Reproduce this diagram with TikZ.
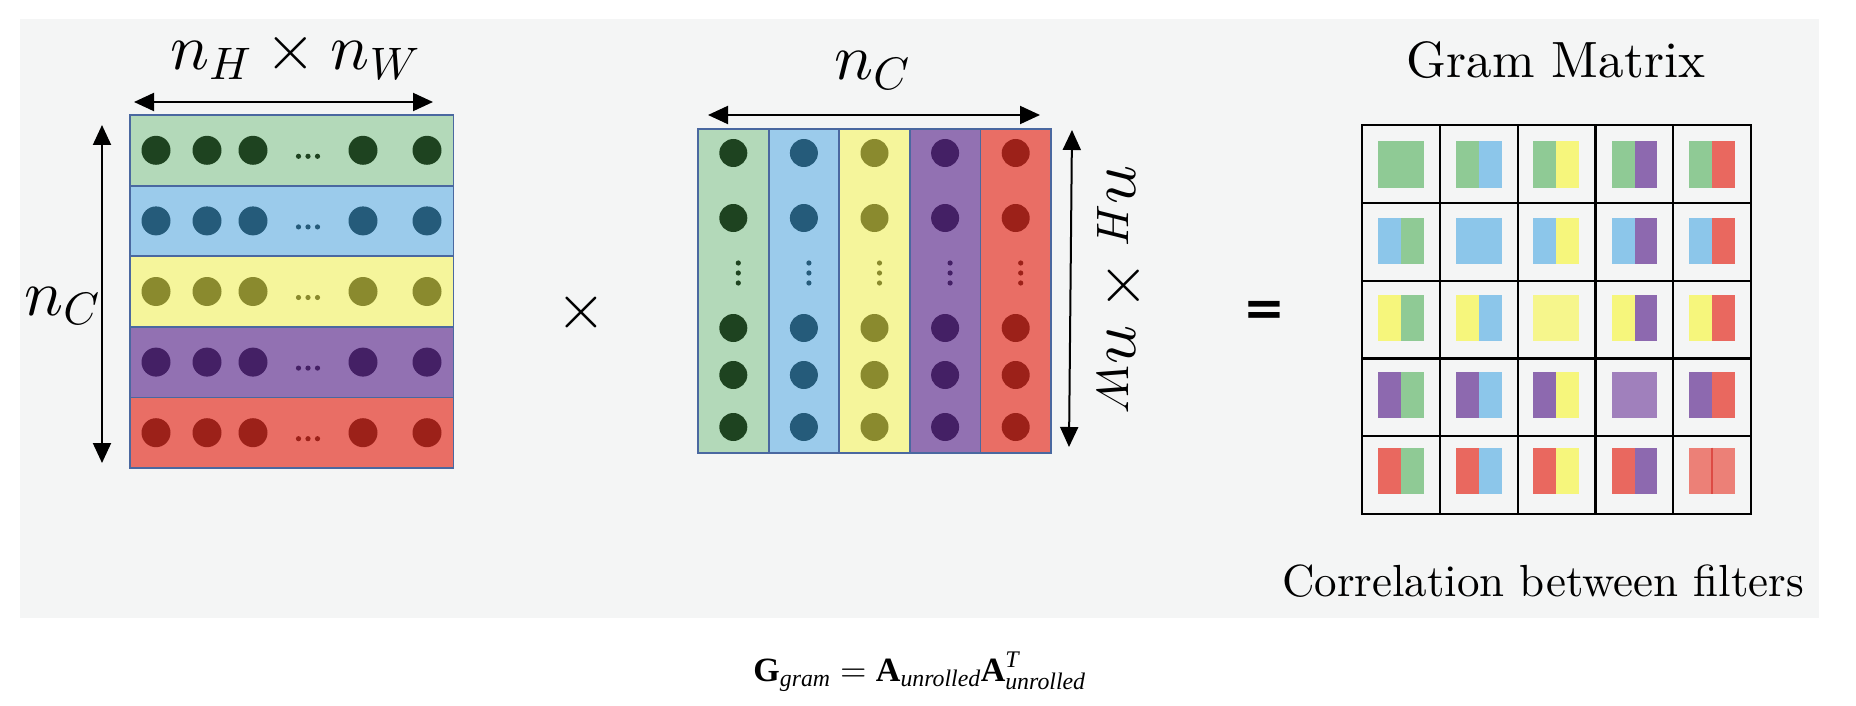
\documentclass[tikz,border=0pt]{standalone}
\usepackage{amsmath}
\usepackage{fontspec}
\usetikzlibrary{arrows.meta}
\DeclareFontShape{OML}{cmm}{m}{it}{<->cmmi10}{}
\DeclareFontShape{OMS}{cmsy}{m}{n}{<->cmsy10}{}
\DeclareFontShape{OT1}{cmr}{m}{n}{<->cmr10}{}
\DeclareFontShape{OMX}{cmex}{m}{n}{<->cmex10}{}
\newfontfamily\tms{Liberation Serif}
\newfontfamily\lmten{lmroman10-regular}[Extension=.otf]
\newfontfamily\djv{DejaVu Sans}
\definecolor{bg}{HTML}{F4F5F5}
\definecolor{bd}{HTML}{4A68A0}
\definecolor{cg}{HTML}{B3D9B9}
\definecolor{cb}{HTML}{9BCBEB}
\definecolor{cy}{HTML}{F5F59B}
\definecolor{cp}{HTML}{9271B2}
\definecolor{cr}{HTML}{E96E65}
\definecolor{dg}{HTML}{1E4320}
\definecolor{db}{HTML}{255B7A}
\definecolor{dy}{HTML}{8A8A2E}
\definecolor{dp}{HTML}{442065}
\definecolor{dr}{HTML}{9C2119}
\definecolor{gg}{HTML}{8FCA95}
\definecolor{gb}{HTML}{8CC6EA}
\definecolor{gy}{HTML}{F6F67C}
\definecolor{gp}{HTML}{8D69AF}
\definecolor{gr}{HTML}{E9685F}
\definecolor{gyd}{HTML}{F6F68C}
\definecolor{gpd}{HTML}{A080BC}
\definecolor{grd}{HTML}{EC8077}
\definecolor{grl}{HTML}{DD4A44}
\newcommand{\tb}[1]{\text{\tms\bfseries #1}}
\newcommand{\ti}[1]{\text{\tms\itshape #1}}
\newcommand{\gc}[4]{%
  \fill[#3] (#1-22.7,#2-23) rectangle (#1,#2+23);
  \fill[#4] (#1,#2-23) rectangle (#1+22.7,#2+23);}
\newcommand{\gd}[3]{\fill[#3] (#1-22.7,#2-23) rectangle (#1+22.7,#2+23);}
\tikzset{
  rowbox/.style={draw=bd, line width=1.8pt, inner sep=0pt, rectangle},
  dimarrow/.style={{Triangle[length=20pt,width=18pt]}-{Triangle[length=20pt,width=18pt]}, line width=2pt},
  mlabel/.style={font=\fontsize{65}{70}\selectfont, inner sep=0pt},
  gridline/.style={line width=2.2pt, line cap=rect, black},
}
\begin{document}
\begin{tikzpicture}[x=1pt,y=-1pt]
\useasboundingbox (0,0) rectangle (1856,706);
\fill[white] (0,0) rectangle (1856,706);
\fill[bg] (20,19) rectangle (1819,618);

% left matrix (rows)
\foreach \fc/\dc [count=\k from 0] in {cg/dg, cb/db, cy/dy, cp/dp, cr/dr} {
  \pgfmathsetmacro\yc{115+70.6*\k+35.3}
  \node[rowbox, fill=\fc, minimum width=323.5pt, minimum height=70.6pt] (L\k) at (291.75,\yc) {};
  \foreach \x in {156,207,253,363,427} \fill[\dc] (\x,\yc) circle[radius=14.5pt];
  \foreach \x in {298.5,308,317.5} \fill[\dc] (\x,\yc+6) circle[radius=2.6pt];
}

% middle matrix (columns)
\foreach \fc/\dc [count=\k from 0] in {cg/dg, cb/db, cy/dy, cp/dp, cr/dr} {
  \pgfmathsetmacro\xc{698+70.6*\k+35.3}
  \node[rowbox, fill=\fc, minimum width=70.6pt, minimum height=324pt] (M\k) at (\xc,291) {};
  \foreach \y in {153,218,328,375,427} \fill[\dc] (\xc,\y) circle[radius=14pt];
  \foreach \y in {263,273,283} \fill[\dc] (\xc+5,\y) circle[radius=2.6pt];
}

% dimension arrows
\coordinate (a1s) at (134,102);  \coordinate (a1e) at (433,102);
\coordinate (a2s) at (102,125);  \coordinate (a2e) at (102,463);
\coordinate (a3s) at (708,115);  \coordinate (a3e) at (1040,115);
\coordinate (a4s) at (1072,130); \coordinate (a4e) at (1069,447);
\draw[dimarrow] (a1s) -- (a1e);
\draw[dimarrow] (a2s) -- (a2e);
\draw[dimarrow] (a3s) -- (a3e);
\draw[dimarrow] (a4s) -- (a4e);

% dimension labels
\node[mlabel, anchor=base] (nhw) at (295,70) {$n_H\times n_W$};
\node[mlabel, anchor=base] (ncl) at (62,315) {$n_C$};
\node[mlabel, anchor=base] (ncm) at (872,80) {$n_C$};
\node[mlabel, anchor=base, rotate=-90] (nhwr) at (1107,290) {$n_H\times n_W$};

% operators
\node[font=\fontsize{64}{70}\selectfont, inner sep=0pt] (mult) at (581,312) {$\times$};
\node[font=\djv\bfseries\fontsize{50}{60}\selectfont, inner sep=0pt] (eq) at (1264,313) {=};

% gram matrix cells
\gd{1401}{164.5}{gg}
\gc{1479}{164.5}{gg}{gb}
\gc{1556}{164.5}{gg}{gy}
\gc{1634.5}{164.5}{gg}{gp}
\gc{1712}{164.5}{gg}{gr}
\gc{1401}{241}{gb}{gg}
\gd{1479}{241}{gb}
\gc{1556}{241}{gb}{gy}
\gc{1634.5}{241}{gb}{gp}
\gc{1712}{241}{gb}{gr}
\gc{1401}{318}{gy}{gg}
\gc{1479}{318}{gy}{gb}
\gd{1556}{318}{gyd}
\gc{1634.5}{318}{gy}{gp}
\gc{1712}{318}{gy}{gr}
\gc{1401}{394.5}{gp}{gg}
\gc{1479}{394.5}{gp}{gb}
\gc{1556}{394.5}{gp}{gy}
\gd{1634.5}{394.5}{gpd}
\gc{1712}{394.5}{gp}{gr}
\gc{1401}{470.5}{gr}{gg}
\gc{1479}{470.5}{gr}{gb}
\gc{1556}{470.5}{gr}{gy}
\gc{1634.5}{470.5}{gr}{gp}
\gd{1712}{470.5}{grd}
\draw[grl, line width=1.2pt] (1712,447.5) -- (1712,493.5);

% gram grid
\foreach \k in {0,...,5} {
  \draw[gridline] (1362+77.8*\k,125) -- (1362+77.8*\k,514);
  \draw[gridline] (1362,125+77.8*\k) -- (1751,125+77.8*\k);
}

% texts
\node[font=\lmten\fontsize{51}{60}\selectfont, anchor=base, inner sep=0pt] (gtitle) at (1556,78) {Gram Matrix};
\node[font=\lmten\fontsize{45}{54}\selectfont, anchor=base, inner sep=0pt] (ctitle) at (1543,596) {Correlation between filters};
\node[font=\fontsize{34}{40}\selectfont, anchor=base, inner sep=0pt] (formula) at (919.5,681)
  {$\tb{G}_{\ti{gram}} = \tb{A}_{\ti{unrolled}}\tb{A}^{\ti{T}}_{\ti{unrolled}}$};
\end{tikzpicture}
\end{document}
